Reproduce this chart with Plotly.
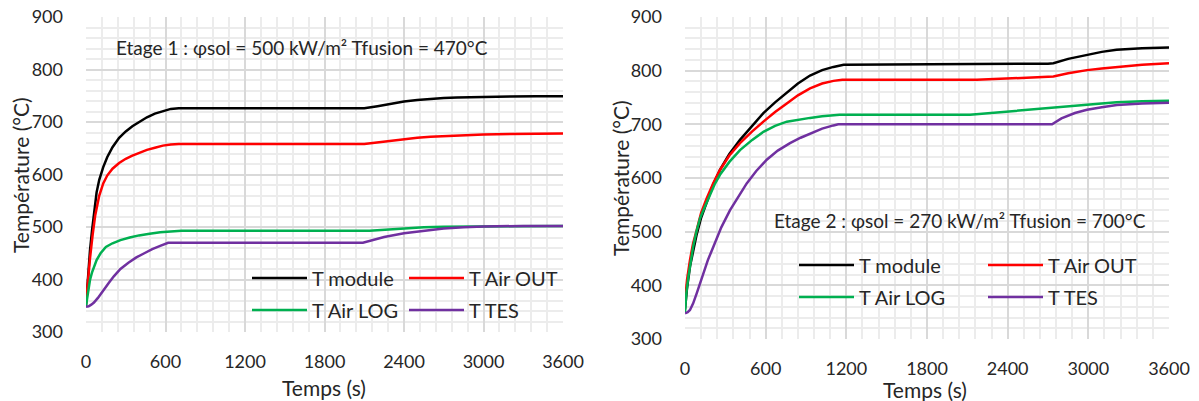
import plotly.graph_objects as go

# ---- Etage 1 (left) ----
t1_module = [0, 15, 30, 45, 60, 80, 100, 130, 160, 200, 250, 300, 350, 400, 460, 520, 580, 640, 700,
             2100, 2200, 2300, 2400, 2500, 2600, 2700, 2800, 3000, 3200, 3400, 3600]
T1_module = [350, 410, 455, 492, 525, 566, 590, 614, 633, 652, 670, 682, 692, 700, 709, 716, 721, 725, 726,
             726, 730, 735, 739, 742, 744, 745.5, 746.5, 748, 748.5, 749, 749]

t1_out = [0, 15, 30, 50, 70, 100, 130, 160, 200, 250, 300, 350, 400, 460, 520, 580, 640, 700,
          2100, 2200, 2300, 2400, 2500, 2600, 2700, 2800, 3000, 3200, 3600]
T1_out = [355, 400, 440, 485, 523, 560, 583, 598, 611, 622, 630, 636, 641, 647, 651, 655, 657, 658,
          658, 661, 665, 667, 670, 672, 673, 674.5, 676, 677, 678]

t1_log = [0, 10, 20, 30, 45, 60, 80, 110, 150, 200, 260, 330, 400, 480, 560, 640, 720,
          2140, 2250, 2400, 2550, 2700, 2850, 3000, 3300, 3600]
T1_log = [350, 370, 387, 399, 413, 425, 437, 450, 462, 469, 475, 480, 484, 487, 490, 491.5, 493,
          493, 495, 497.5, 499.5, 500.6, 501, 501.6, 502, 502]

t1_tes = [0, 20, 40, 60, 90, 130, 170, 210, 260, 320, 380, 440, 500, 560, 620,
          2090, 2170, 2250, 2400, 2550, 2700, 2850, 3000, 3300, 3600]
T1_tes = [348, 349, 352, 356, 365, 380, 393, 406, 420, 432, 442, 450, 458, 464, 470,
          470, 476, 481, 488, 493, 497, 499.5, 501, 502, 502]

# ---- Etage 2 (right) ----
t2_module = [0, 15, 37, 60, 87, 120, 161, 210, 260, 330, 409, 500, 583, 670, 757, 840, 930, 1020, 1104, 1180,
             2700, 2740, 2850, 2990, 3100, 3210, 3400, 3600]
T2_module = [355, 395, 435, 466, 495, 526, 555, 588, 615, 645, 671, 698, 721, 741, 759, 776, 791, 801, 807, 811,
             813, 814, 822, 829, 835, 839, 842, 843]

t2_out = [0, 15, 37, 60, 87, 120, 161, 210, 260, 330, 409, 500, 583, 670, 757, 840, 930, 1020, 1104, 1170,
          2170, 2450, 2740, 2850, 2990, 3100, 3210, 3400, 3600]
T2_out = [370, 410, 447, 478, 503, 535, 562, 590, 615, 642, 665, 687, 705, 723, 739, 754, 767, 776, 781, 783,
          783, 786, 789, 795, 801, 804, 807, 811, 814]

t2_log = [0, 10, 25, 40, 62, 85, 112, 150, 186, 220, 260, 330, 409, 500, 583, 670, 757, 840, 930, 1020, 1104, 1150,
          2120, 2400, 2740, 2850, 2990, 3100, 3210, 3400, 3600]
T2_log = [350, 385, 416, 443, 474, 500, 525, 548, 568, 588, 606, 630, 652, 671, 686, 697, 705, 709, 712, 715, 717, 718,
          718, 724, 730, 733, 736, 739, 741, 743, 744]

t2_tes = [0, 20, 37, 60, 87, 110, 136, 170, 211, 270, 335, 400, 459, 530, 608, 690, 781, 860, 930, 1020, 1104, 1140,
          2730, 2800, 2900, 2990, 3100, 3212, 3400, 3600]
T2_tes = [348, 350, 354, 366, 385, 403, 422, 447, 472, 508, 540, 567, 590, 613, 634, 651, 665, 675, 683, 692, 698, 700,
          700, 711, 721, 727, 732, 736, 739, 740]

names = ['T module', 'T Air OUT', 'T Air LOG', 'T TES']
colors = ['#000000', '#ff0000', '#00b050', '#7030a0']
x_ticks = [0, 600, 1200, 1800, 2400, 3000, 3600]
y_ticks = [300, 400, 500, 600, 700, 800, 900]

FONT = 'Lato, Carlito, Calibri, sans-serif'
TXT = '#262626'

W, H = 1199, 401


def px(x):
    return x / W


def py(y):
    return 1 - y / H


fig = go.Figure()

left = [(t1_module, T1_module), (t1_out, T1_out), (t1_log, T1_log), (t1_tes, T1_tes)]
right = [(t2_module, T2_module), (t2_out, T2_out), (t2_log, T2_log), (t2_tes, T2_tes)]
row_leg_left = ['legend', 'legend', 'legend2', 'legend2']
row_leg_right = ['legend3', 'legend3', 'legend4', 'legend4']

for i, (t, T) in enumerate(left):
    fig.add_trace(go.Scatter(x=t, y=T, mode='lines', name=names[i],
                             line=dict(color=colors[i], width=2.5),
                             xaxis='x', yaxis='y', legend=row_leg_left[i]))
for i, (t, T) in enumerate(right):
    fig.add_trace(go.Scatter(x=t, y=T, mode='lines', name=names[i],
                             line=dict(color=colors[i], width=2.5),
                             xaxis='x2', yaxis='y2', legend=row_leg_right[i]))

xax = dict(range=[0, 3600], tickvals=x_ticks, showgrid=True, gridcolor='#d9d9d9', gridwidth=1.5,
           minor=dict(dtick=120, tick0=0, showgrid=True, gridcolor='#ececec', gridwidth=1.5),
           zeroline=False, showline=False, ticks='', automargin=False, ticklabeloverflow='allow',
           tickfont=dict(size=18, color=TXT, family=FONT), ticklabelstandoff=17)
yax = dict(range=[300, 900], tickvals=y_ticks, showgrid=True, gridcolor='#d9d9d9', gridwidth=1.5,
           minor=dict(dtick=20, tick0=300, showgrid=True, gridcolor='#ececec', gridwidth=1.5),
           zeroline=False, showline=False, ticks='', automargin=False, ticklabeloverflow='allow',
           tickfont=dict(size=18, color=TXT, family=FONT), ticklabelstandoff=22)

fig.update_layout(
    width=W, height=H,
    margin=dict(l=0, r=0, t=0, b=0),
    paper_bgcolor='white', plot_bgcolor='white',
    font=dict(family=FONT, color=TXT, size=19),
    xaxis=dict(xax, domain=[px(86), px(563)], anchor='y'),
    yaxis=dict(yax, domain=[py(332), py(17)], anchor='x'),
    xaxis2=dict(xax, domain=[px(685), px(1169)], anchor='y2'),
    yaxis2=dict(yax, domain=[py(339), py(17)], anchor='x2'),
)

leg = dict(orientation='h', bgcolor='rgba(0,0,0,0)', borderwidth=0, itemwidth=55,
           entrywidthmode='pixels', font=dict(size=20, color=TXT, family=FONT),
           xanchor='left', yanchor='middle', traceorder='normal', itemclick=False)
fig.update_layout(
    legend=dict(leg, x=px(247), y=py(278), entrywidth=87),
    legend2=dict(leg, x=px(247), y=py(310), entrywidth=87),
    legend3=dict(leg, x=px(794), y=py(265), entrywidth=119),
    legend4=dict(leg, x=px(794), y=py(297), entrywidth=119),
)

ann = []
ann.append(dict(text='Etage 1 : φsol = 500 kW/m² Tfusion = 470°C', x=px(114), y=py(47),
                xanchor='left', yanchor='middle', font=dict(size=19)))
ann.append(dict(text='Etage 2 : φsol = 270 kW/m² Tfusion = 700°C', x=px(772), y=py(220),
                xanchor='left', yanchor='middle', font=dict(size=19)))
ann.append(dict(text='Temps (s)', x=px(324), y=py(387), xanchor='center', yanchor='middle',
                font=dict(size=21)))
ann.append(dict(text='Temps (s)', x=px(925), y=py(389), xanchor='center', yanchor='middle',
                font=dict(size=21)))
ann.append(dict(text='Température (°C)', x=px(20), y=py(175), textangle=-90,
                xanchor='center', yanchor='middle', font=dict(size=21)))
ann.append(dict(text='Température (°C)', x=px(620), y=py(178), textangle=-90,
                xanchor='center', yanchor='middle', font=dict(size=21)))
for a in ann:
    a.update(xref='paper', yref='paper', showarrow=False)
    a['font'].update(color=TXT, family=FONT)
fig.update_layout(annotations=ann)

# drop the default 8px page margin so the figure fills the window
fig.write_html("out.html", config={'displayModeBar': False},
               post_script="document.body.style.margin='0';")
